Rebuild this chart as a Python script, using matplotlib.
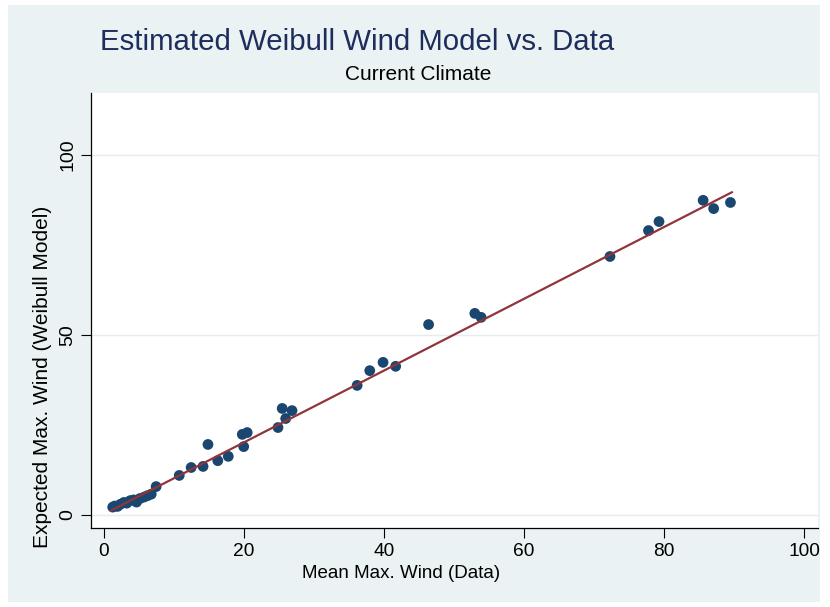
import matplotlib
matplotlib.use("Agg")
import matplotlib.pyplot as plt
from matplotlib.patches import Rectangle
import numpy as np

# Data
mean_max_wind_data = [1.3, 1.6, 2.0, 2.4, 2.9, 3.3, 3.8, 4.3, 4.7, 5.2, 5.8, 6.3, 6.8, 7.5,
                      10.8, 12.5, 14.2, 14.9, 16.3, 17.8, 19.8, 20.0, 20.5,
                      24.9, 25.5, 26.0, 26.9, 36.2, 38.0, 39.9, 41.7, 46.4,
                      53.0, 53.9, 72.3, 77.8, 79.3, 85.6, 87.1, 89.5]
expected_max_wind_model = [2.2, 2.5, 2.4, 3.0, 3.5, 3.3, 4.0, 4.2, 3.6, 4.6, 5.0, 5.4, 5.8, 7.9,
                           11.0, 13.2, 13.5, 19.6, 15.1, 16.3, 22.4, 19.0, 22.9,
                           24.3, 29.6, 26.8, 29.0, 36.0, 40.1, 42.4, 41.3, 52.9,
                           56.0, 54.9, 71.8, 79.0, 81.5, 87.4, 85.1, 86.8]
fit_intercept = 0.2
fit_slope = 0.997
x_ticks = [0, 20, 40, 60, 80, 100]
y_ticks = [0, 50, 100]

title = "Estimated Weibull Wind Model vs. Data"
subtitle = "Current Climate"
x_label = "Mean Max. Wind (Data)"
y_label = "Expected Max. Wind (Weibull Model)"

W, H = 830, 607
fig = plt.figure(figsize=(W / 100, H / 100), dpi=100, facecolor="white")
bg = "#EAF2F3"
fig.patches.append(Rectangle((8 / W, 1 - 602 / H), (820 - 8) / W, (602 - 5) / H,
                             transform=fig.transFigure, facecolor=bg, edgecolor="none", zorder=-10))

ax = fig.add_axes([91 / W, 1 - 528 / H, (818 - 91) / W, (528 - 93) / H])
ax.set_zorder(1)
ax.set_facecolor("white")

x = np.array(mean_max_wind_data)
y = np.array(expected_max_wind_model)
ax.scatter(x, y, s=60, color="#1A476F", edgecolors="none", zorder=3)

xs = np.array([x.min() - 0.25, x.max() + 0.2])
ax.plot(xs, fit_intercept + fit_slope * xs, color="#90353B", lw=1.6, zorder=4)

ax.set_xlim(-1.8, 102)
ax.set_ylim(-3.6, 117.2)
ax.set_xticks(x_ticks)
ax.set_yticks(y_ticks)
ax.set_xticklabels([str(t) for t in x_ticks], fontsize=13.8, family="Liberation Sans")
ax.set_yticklabels([str(t) for t in y_ticks], fontsize=14, family="Liberation Sans",
                   rotation=90, va="center")
ax.tick_params(axis="both", direction="out", length=7.5, width=0.8, color="black", pad=3)
ax.grid(axis="y", color="#E3EDEE", lw=1.0, zorder=0)
ax.set_axisbelow(True)
for s in ["top", "right"]:
    ax.spines[s].set_visible(False)
for s in ["left", "bottom"]:
    ax.spines[s].set_color("black")
    ax.spines[s].set_linewidth(0.9)

# Axis titles positioned as in the reference (in figure pixels)
fig.text(401 / W, 1 - 573 / H, x_label, fontsize=13.5, family="Liberation Sans",
         ha="center", va="center")
fig.text(42 / W, 1 - 377 / H, y_label, fontsize=15, family="Liberation Sans",
         ha="center", va="center", rotation=90)

fig.text(100 / W, 1 - 42 / H, title, fontsize=21.2, color="#1E2D5C",
         family="Liberation Sans", ha="left", va="center")
fig.text(418 / W, 1 - 75 / H, subtitle, fontsize=15, color="black",
         family="Liberation Sans", ha="center", va="center")

fig.savefig("out.png", dpi=100, facecolor="white")
